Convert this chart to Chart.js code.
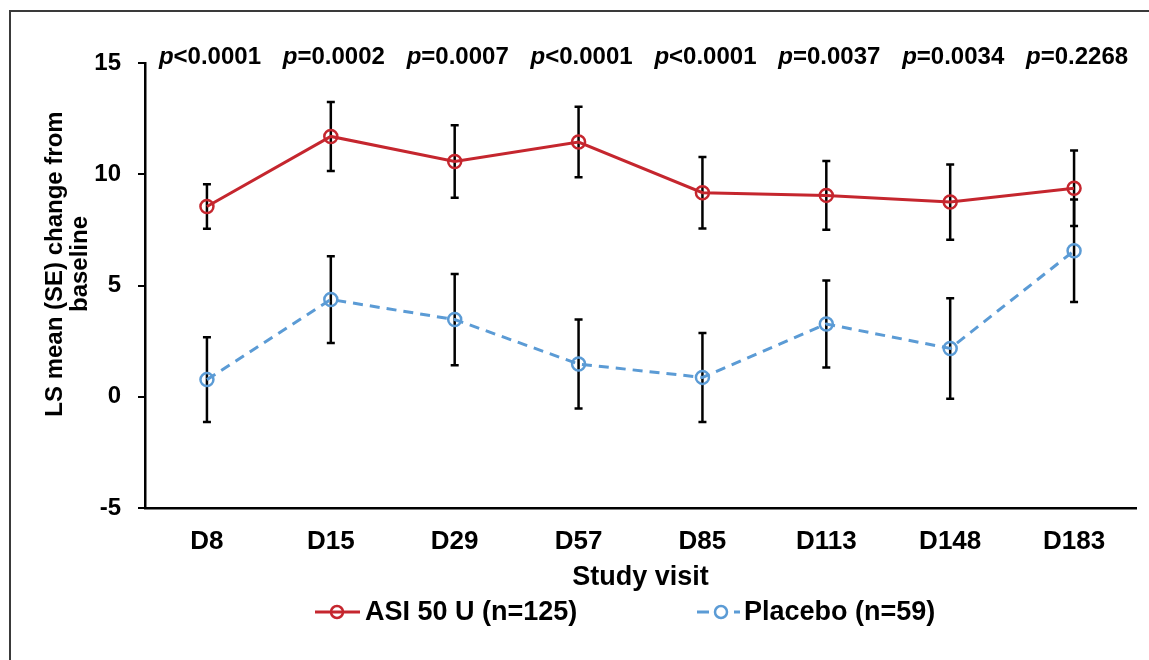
<!doctype html>
<html>
<head>
<meta charset="utf-8" />
<title>LS mean change from baseline</title>
<style>
  html, body { margin: 0; padding: 0; background: #fff; overflow: hidden; }
  .frame {
    position: absolute; left: 9px; top: 10px;
    width: 1300px; height: 800px;
    border: 2px solid #3a3a3a;
  }
  .wrap { position: absolute; left: 0; top: 0; width: 1149px; height: 660px; }
</style>
<script src="https://cdn.jsdelivr.net/npm/chart.js"></script>
</head>
<body>
<div class="frame"></div>
<div class="wrap"><canvas id="c" width="1149" height="660"></canvas></div>
<script>
// visits on the x axis
const visits = ['D8', 'D15', 'D29', 'D57', 'D85', 'D113', 'D148', 'D183'];

// p-values printed above each visit
const pSign = ['<', '=', '=', '<', '<', '=', '=', '='];
const pValue = ['0.0001', '0.0002', '0.0007', '0.0001', '0.0001', '0.0037', '0.0034', '0.2268'];

// ASI 50 U (n=125): LS mean and SE
const asiMean = [8.55, 11.7, 10.57, 11.45, 9.17, 9.05, 8.75, 9.37];
const asiSE   = [1.0, 1.55, 1.63, 1.58, 1.61, 1.54, 1.69, 1.7];

// Placebo (n=59): LS mean and SE
const pboMean = [0.77, 4.37, 3.47, 1.47, 0.87, 3.27, 2.17, 6.56];
const pboSE   = [1.9, 1.95, 2.05, 2.0, 2.0, 1.96, 2.26, 2.3];

const yMin = -5, yMax = 15, yStep = 5;

const RED = '#C5262E';
const BLUE = '#5B9BD5';
const FONT = '"Liberation Sans", Arial, Helvetica, sans-serif';

// error bars (mean ± SE), drawn through the chart scales
const errorBars = {
  id: 'errorBars',
  beforeDatasetsDraw(chart) {
    const ctx = chart.ctx;
    const ys = chart.scales.y;
    const se = [asiSE, pboSE];
    ctx.save();
    ctx.strokeStyle = '#000';
    ctx.lineWidth = 2.5;
    chart.data.datasets.forEach((ds, i) => {
      const meta = chart.getDatasetMeta(i);
      meta.data.forEach((pt, j) => {
        const m = ds.data[j];
        const top = ys.getPixelForValue(m + se[i][j]);
        const bot = ys.getPixelForValue(m - se[i][j]);
        ctx.beginPath();
        ctx.moveTo(pt.x, top); ctx.lineTo(pt.x, bot);
        ctx.moveTo(pt.x - 4, top); ctx.lineTo(pt.x + 4, top);
        ctx.moveTo(pt.x - 4, bot); ctx.lineTo(pt.x + 4, bot);
        ctx.stroke();
      });
    });
    ctx.restore();
  }
};

// p-values, y-axis title, x-axis title and legend
const annotations = {
  id: 'annotations',
  afterDraw(chart) {
    const ctx = chart.ctx;
    const xs = chart.scales.x;
    const area = chart.chartArea;
    ctx.save();
    ctx.fillStyle = '#000';
    ctx.textBaseline = 'middle';

    // p-values
    visits.forEach((v, i) => {
      const cx = xs.getPixelForValue(i) + 3;
      ctx.font = 'italic bold 24px ' + FONT;
      const w1 = ctx.measureText('p').width;
      ctx.font = 'bold 24px ' + FONT;
      const rest = pSign[i] + pValue[i];
      const w2 = ctx.measureText(rest).width;
      let x0 = cx - (w1 + w2) / 2;
      ctx.textAlign = 'left';
      ctx.font = 'italic bold 24px ' + FONT;
      ctx.fillText('p', x0, 57);
      ctx.font = 'bold 24px ' + FONT;
      ctx.fillText(rest, x0 + w1, 57);
    });

    // y-axis title (two lines)
    ctx.save();
    ctx.translate(0, 264);
    ctx.rotate(-Math.PI / 2);
    ctx.textAlign = 'center';
    ctx.font = 'bold 24px ' + FONT;
    ctx.fillText('LS mean (SE) change from', 0, 55);
    ctx.fillText('baseline', 0, 80);
    ctx.restore();

    // x-axis title
    ctx.textAlign = 'center';
    ctx.font = 'bold 27px ' + FONT;
    ctx.fillText('Study visit', (area.left + area.right) / 2, 578);

    // legend
    const ly = 612;
    ctx.lineWidth = 3;
    ctx.strokeStyle = RED;
    ctx.beginPath(); ctx.moveTo(315, ly); ctx.lineTo(360, ly); ctx.stroke();
    ctx.lineWidth = 2.5;
    ctx.beginPath(); ctx.arc(337, ly, 6, 0, Math.PI * 2); ctx.stroke();
    ctx.textAlign = 'left';
    ctx.font = 'bold 27px ' + FONT;
    ctx.fillText('ASI 50 U (n=125)', 365, ly + 1);

    ctx.strokeStyle = BLUE;
    ctx.lineWidth = 3;
    ctx.beginPath();
    ctx.moveTo(697, ly); ctx.lineTo(709, ly);
    ctx.moveTo(734, ly); ctx.lineTo(740, ly);
    ctx.stroke();
    ctx.lineWidth = 2.5;
    ctx.beginPath(); ctx.arc(721, ly, 6, 0, Math.PI * 2); ctx.stroke();
    ctx.fillText('Placebo (n=59)', 744, ly + 1);

    ctx.restore();
  }
};

new Chart(document.getElementById('c'), {
  type: 'line',
  data: {
    labels: visits,
    datasets: [
      {
        label: 'ASI 50 U (n=125)',
        data: asiMean,
        borderColor: RED,
        borderWidth: 3,
        pointStyle: 'circle',
        pointRadius: 6.5,
        pointBorderWidth: 2.5,
        pointBorderColor: RED,
        pointBackgroundColor: 'rgba(0,0,0,0)',
        tension: 0
      },
      {
        label: 'Placebo (n=59)',
        data: pboMean,
        borderColor: BLUE,
        borderWidth: 3,
        borderDash: [10, 7],
        pointStyle: 'circle',
        pointRadius: 6.5,
        pointBorderWidth: 2.5,
        pointBorderColor: BLUE,
        pointBackgroundColor: 'rgba(0,0,0,0)',
        tension: 0
      }
    ]
  },
  options: {
    responsive: false,
    animation: false,
    layout: { padding: { left: 0, top: 63, right: 13, bottom: 0 } },
    plugins: { legend: { display: false }, tooltip: { enabled: false } },
    scales: {
      x: {
        offset: true,
        grid: { display: false },
        border: { display: true, color: '#000', width: 2.5 },
        ticks: {
          color: '#000',
          padding: 10,
          font: { family: FONT, size: 26, weight: 'bold' }
        },
        afterFit(s) { s.height = 152; }
      },
      y: {
        min: yMin,
        max: yMax,
        grid: { drawOnChartArea: false, drawTicks: true, tickLength: 7, color: '#000', lineWidth: 2 },
        border: { display: true, color: '#000', width: 2.5 },
        ticks: {
          stepSize: yStep,
          color: '#000',
          padding: 17,
          font: { family: FONT, size: 24, weight: 'bold' }
        },
        afterFit(s) { s.width = 145; }
      }
    }
  },
  plugins: [errorBars, annotations]
});
</script>
</body>
</html>
